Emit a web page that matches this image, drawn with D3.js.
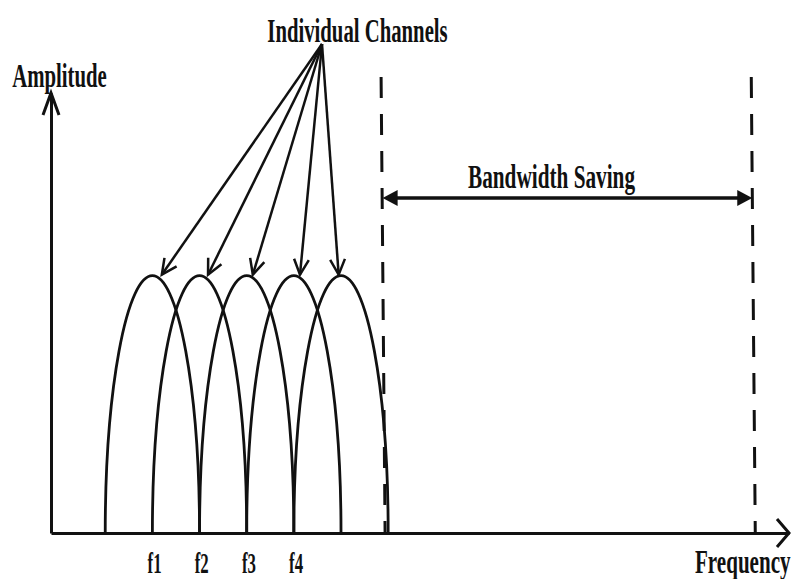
<!DOCTYPE html>
<html>
<head>
<meta charset="utf-8">
<script src="https://cdn.jsdelivr.net/npm/d3@7"></script>
<style>
  html, body { margin: 0; padding: 0; background: #fff; }
  svg { display: block; }
  text { font-family: "Liberation Serif", "Times New Roman", serif; fill: #111; }
</style>
</head>
<body>
<svg id="chart" width="791" height="579"></svg>
<script>
// ---- data ----
const channelCenters = [1, 2, 3, 4, 5];          // subcarrier centre frequencies (spacing units)
const channelPeak = 1;                           // normalised peak amplitude
const channelHalfWidth = 1;                      // each channel spans centre ± 1 spacing
const tickValues = [1, 2, 3, 4];
const tickLabels = ["f1", "f2", "f3", "f4"];
const arrowTargets = [1.2, 2.18, 3.13, 4.13, 4.95]; // where the "Individual Channels" arrows land
const bandwidthEdges = [5.85, 13.7];             // "Bandwidth Saving" span
const xDomain = [-1.15, 14.5];
const yDomain = [0, 1.71];

// ---- layout ----
const W = 791, H = 579;
const axisY = 533, axisX = 51;
const ink = "#111";
const svg = d3.select("#chart");

const x = d3.scaleLinear().domain(xDomain).range([axisX, 789]);
const y = d3.scaleLinear().domain(yDomain).range([axisY, 93]);

function label(txt, cx, baseline, size, weight, anchor, sx) {
  svg.append("text")
    .attr("transform", `translate(${cx},${baseline}) scale(${sx},1)`)
    .attr("text-anchor", anchor)
    .attr("font-size", size)
    .attr("font-weight", weight)
    .text(txt);
}

// ---- axes ----
const xAxis = d3.axisBottom(x)
  .tickValues(tickValues)
  .tickFormat((d, i) => tickLabels[i])
  .tickSize(0)
  .tickSizeOuter(0);
const gx = svg.append("g").attr("transform", `translate(0,${axisY})`).call(xAxis);
gx.select(".domain").attr("stroke", ink).attr("stroke-width", 3);
gx.selectAll(".tick text")
  .attr("y", 40).attr("dy", 0)
  .attr("x", 3)
  .attr("font-size", 30)
  .attr("font-weight", "bold")
  .attr("font-family", "Liberation Serif, Times New Roman, serif")
  .attr("fill", ink)
  .attr("transform", "scale(0.56,1)");

const yAxis = d3.axisLeft(y).tickValues([]).tickSizeOuter(0);
const gy = svg.append("g").attr("transform", `translate(${axisX},0)`).call(yAxis);
gy.select(".domain").attr("stroke", ink).attr("stroke-width", 3);

// axis arrowheads (open chevrons)
const yTop = y(yDomain[1]);
svg.append("path")
  .attr("d", `M${axisX - 8},${yTop + 22} L${axisX},${yTop} L${axisX + 8},${yTop + 22}`)
  .attr("fill", "none").attr("stroke", ink).attr("stroke-width", 3);
const xEnd = x(xDomain[1]);
svg.append("path")
  .attr("d", `M${xEnd - 12},${axisY - 14} L${xEnd},${axisY} L${xEnd - 12},${axisY + 14}`)
  .attr("fill", "none").attr("stroke", ink).attr("stroke-width", 3);

// ---- channel curves (half-ellipse lobes) ----
svg.append("g").selectAll("path")
  .data(channelCenters)
  .join("path")
  .attr("d", c => {
    const x0 = x(c - channelHalfWidth), x1 = x(c + channelHalfWidth);
    const rx = (x1 - x0) / 2, ry = y(0) - y(channelPeak);
    return `M${x0},${y(0)} A${rx},${ry} 0 0 1 ${x1},${y(0)}`;
  })
  .attr("fill", "none")
  .attr("stroke", ink)
  .attr("stroke-width", 2.8);

// ---- dashed boundary lines ----
const dashTop = 77;
svg.append("g").selectAll("line")
  .data(bandwidthEdges)
  .join("line")
  .attr("x1", d => x(d)).attr("y1", dashTop)
  .attr("x2", d => x(d) + 4).attr("y2", axisY)
  .attr("stroke", ink)
  .attr("stroke-width", 3)
  .attr("stroke-dasharray", "21,16");

// ---- bandwidth saving double arrow ----
const bwY = 198;
const bx0 = x(bandwidthEdges[0]) + 1.5, bx1 = x(bandwidthEdges[1]) + 1;
svg.append("line")
  .attr("x1", bx0 + 10).attr("y1", bwY).attr("x2", bx1 - 10).attr("y2", bwY)
  .attr("stroke", ink).attr("stroke-width", 3.5);
svg.append("path")
  .attr("d", `M${bx0},${bwY} L${bx0 + 15},${bwY - 8} L${bx0 + 15},${bwY + 8} Z`)
  .attr("fill", ink);
svg.append("path")
  .attr("d", `M${bx1},${bwY} L${bx1 - 15},${bwY - 8} L${bx1 - 15},${bwY + 8} Z`)
  .attr("fill", ink);

// ---- "Individual Channels" arrows ----
const origin = [322, 44];
const arrowG = svg.append("g");
arrowTargets.forEach(t => {
  const tx = x(t), ty = y(channelPeak) - 1;
  arrowG.append("line")
    .attr("x1", origin[0]).attr("y1", origin[1])
    .attr("x2", tx).attr("y2", ty)
    .attr("stroke", ink).attr("stroke-width", 2.5);
  const ang = Math.atan2(origin[1] - ty, origin[0] - tx);
  const len = 17, spread = 0.45;
  const a1 = [tx + len * Math.cos(ang + spread), ty + len * Math.sin(ang + spread)];
  const a2 = [tx + len * Math.cos(ang - spread), ty + len * Math.sin(ang - spread)];
  arrowG.append("path")
    .attr("d", `M${a1[0]},${a1[1]} L${tx},${ty} L${a2[0]},${a2[1]}`)
    .attr("fill", "none").attr("stroke", ink).attr("stroke-width", 2.5);
});

// ---- labels ----
label("Individual Channels", 357.5, 42, 34, "bold", "middle", 0.61);
label("Amplitude", 59.5, 87, 33, "bold", "middle", 0.63);
label("Bandwidth Saving", 551.5, 188, 34, "bold", "middle", 0.625);
label("Frequency", 695, 573, 34, "bold", "start", 0.62);
</script>
</body>
</html>
